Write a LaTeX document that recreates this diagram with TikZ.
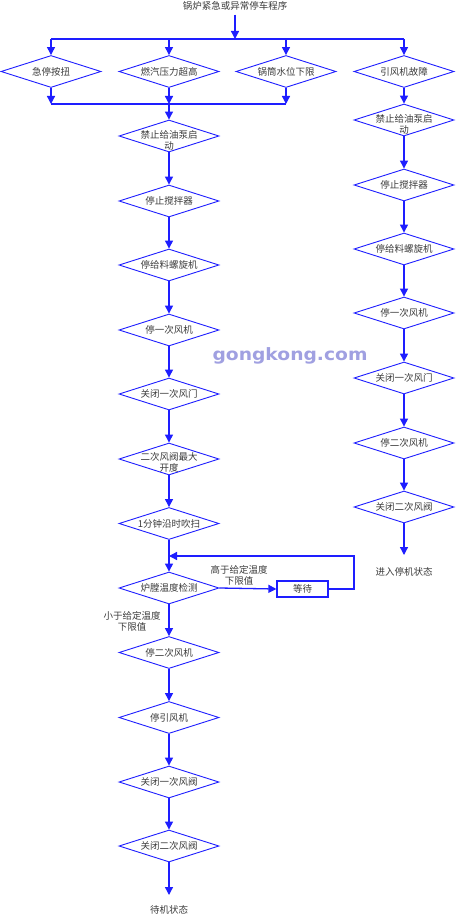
\documentclass[tikz,border=0pt]{standalone}
\usepackage{fontspec}
\newfontfamily\cjk{Noto Sans CJK SC}
\newfontfamily\wm{DejaVu Sans}
\usetikzlibrary{shapes.geometric,arrows.meta}
\definecolor{ln}{RGB}{30,30,255}
\definecolor{tx}{RGB}{60,60,60}
\definecolor{wmc}{RGB}{160,160,225}
\begin{document}
\begin{tikzpicture}[x=1pt,y=-1pt,
  dia/.style={diamond,draw=ln,line width=0.9pt,minimum width=100pt,minimum height=32pt,inner sep=0pt},
  txt/.style={font=\cjk\fontsize{9.5}{11}\selectfont,text=tx,inner sep=0pt,align=center},
  waitbox/.style={rectangle,draw=ln,line width=1.2pt,minimum width=51pt,minimum height=16pt,inner sep=0pt,font=\cjk\fontsize{9.5}{11}\selectfont,text=tx},
  conn/.style={draw=ln,line width=1.3pt},
  arr/.style={conn,-{Triangle[length=8pt,width=8pt]}},
  ]
\useasboundingbox (0,0) rectangle (455,915);
\fill[white] (0,0) rectangle (455,915);

% watermark
\node[font=\wm\bfseries\fontsize{17}{17}\selectfont,text=wmc,xscale=1.1,inner sep=0pt] (wmk) at (290,356) {gongkong.com};

% title and top bus
\node[txt] (title) at (235,6) {锅炉紧急或异常停车程序};
\coordinate (bt) at (235,39);
\coordinate (bl) at (51,39);
\coordinate (br) at (404,39);

% first row
\node[dia,label={[txt]center:急停按扭}] (d1) at (51,71.5) {};
\node[dia,label={[txt]center:燃汽压力超高}] (d2) at (169,71.5) {};
\node[dia,label={[txt]center:锅筒水位下限}] (d3) at (286,71.5) {};
\node[dia,label={[txt]center:引风机故障}] (d4) at (404,71.5) {};

% left column
\node[dia,label={[txt,yshift=-4pt]center:{禁止给油泵启\\动}}] (L1) at (169,136) {};
\node[dia,label={[txt]center:停止搅拌器}] (L2) at (169,201) {};
\node[dia,label={[txt]center:停给料螺旋机}] (L3) at (169,265) {};
\node[dia,label={[txt]center:停一次风机}] (L4) at (169,330) {};
\node[dia,label={[txt]center:关闭一次风门}] (L5) at (169,394) {};
\node[dia,label={[txt,yshift=-3pt]center:{二次风阀最大\\开度}}] (L6) at (169,459) {};
\node[dia,label={[txt]center:1分钟沿时吹扫}] (L7) at (169,523.5) {};
\node[dia,label={[txt]center:炉膛温度检测}] (T) at (169,588) {};
\node[dia,label={[txt]center:停二次风机}] (L8) at (169,652.5) {};
\node[dia,label={[txt]center:停引风机}] (L9) at (169,717.5) {};
\node[dia,label={[txt]center:关闭一次风阀}] (L10) at (169,782) {};
\node[dia,label={[txt]center:关闭二次风阀}] (L11) at (169,846) {};
\node[txt] (end1) at (169,910) {待机状态};
\coordinate (e1) at (169,895);

% wait box
\node[waitbox] (W) at (302.5,589) {等待};
\node[txt] (hi) at (239,575.5) {高于给定温度\\下限值};
\node[txt] (lo) at (132,621) {小于给定温度\\下限值};
\coordinate (lp1) at (354,589);
\coordinate (lp2) at (354,556);

% right column
\node[dia,label={[txt,yshift=-4pt]center:{禁止给油泵启\\动}}] (R1) at (404,120) {};
\node[dia,label={[txt]center:停止搅拌器}] (R2) at (404,185) {};
\node[dia,label={[txt]center:停给料螺旋机}] (R3) at (404,249) {};
\node[dia,label={[txt]center:停一次风机}] (R4) at (404,313) {};
\node[dia,label={[txt]center:关闭一次风门}] (R5) at (404,378) {};
\node[dia,label={[txt]center:停二次风机}] (R6) at (404,443) {};
\node[dia,label={[txt]center:关闭二次风阀}] (R7) at (404,507) {};
\node[txt] (end2) at (404,572) {进入停机状态};
\coordinate (e2) at (404,555);

% second bus
\coordinate (cl) at (51,104);
\coordinate (cr) at (286,104);

% connectors
\draw[arr,shorten <=4pt] (title.south) -- (bt);
\draw[conn] (bl) -- (br);
\draw[arr] (bl) -- (d1.north);
\draw[arr] (d2.north |- bl) -- (d2.north);
\draw[arr] (d3.north |- bl) -- (d3.north);
\draw[arr] (br) -- (d4.north);

\draw[arr] (d1.south) -- (cl);
\draw[arr] (d2.south) -- (d2.south |- cl);
\draw[arr] (d3.south) -- (cr);
\draw[conn] (cl) -- (cr);
\draw[arr] (d2.south |- cl) -- (L1.north);

\draw[arr] (L1.south) -- (L2.north);
\draw[arr] (L2.south) -- (L3.north);
\draw[arr] (L3.south) -- (L4.north);
\draw[arr] (L4.south) -- (L5.north);
\draw[arr] (L5.south) -- (L6.north);
\draw[arr] (L6.south) -- (L7.north);
\draw[arr] (L7.south) -- (T.north);
\draw[arr] (T.east) -- (W.west);
\draw[arr] (W.east) -- (lp1) -- (lp2) -- (lp2 -| L7.south);
\draw[arr] (T.south) -- (L8.north);
\draw[arr] (L8.south) -- (L9.north);
\draw[arr] (L9.south) -- (L10.north);
\draw[arr] (L10.south) -- (L11.north);
\draw[arr] (L11.south) -- (e1);

\draw[arr] (d4.south) -- (R1.north);
\draw[arr] (R1.south) -- (R2.north);
\draw[arr] (R2.south) -- (R3.north);
\draw[arr] (R3.south) -- (R4.north);
\draw[arr] (R4.south) -- (R5.north);
\draw[arr] (R5.south) -- (R6.north);
\draw[arr] (R6.south) -- (R7.north);
\draw[arr] (R7.south) -- (e2);
\end{tikzpicture}
\end{document}
